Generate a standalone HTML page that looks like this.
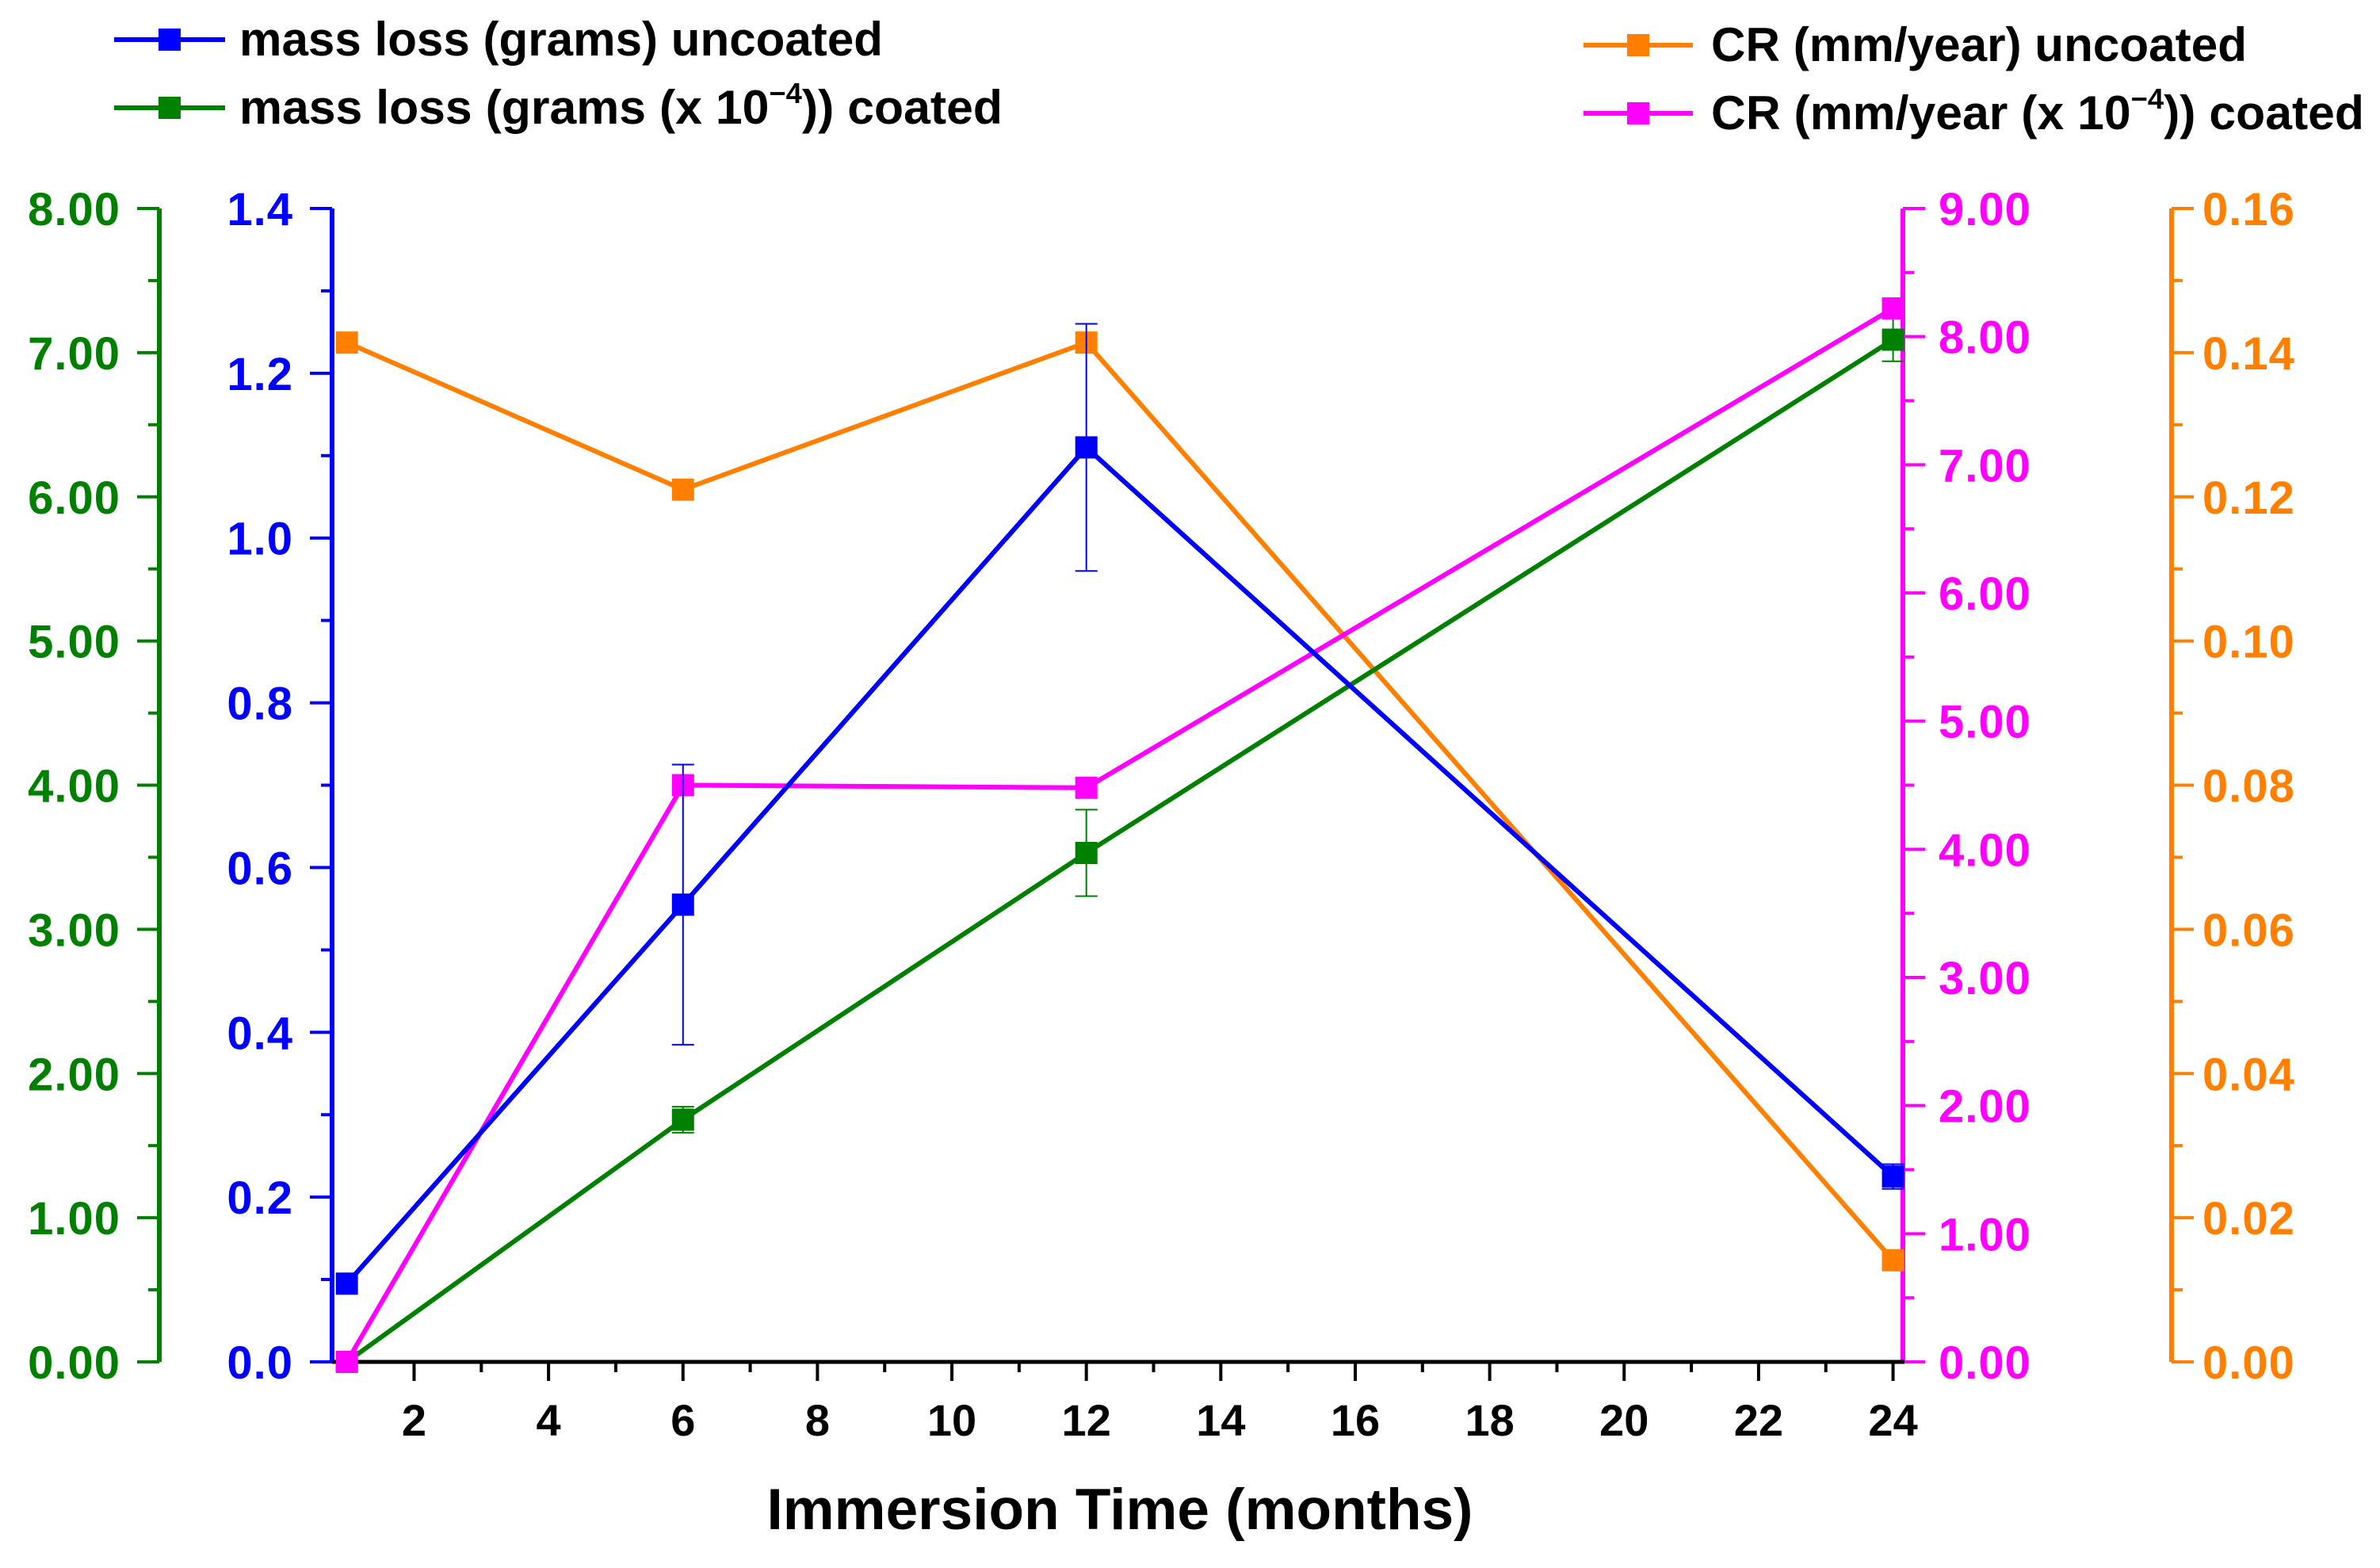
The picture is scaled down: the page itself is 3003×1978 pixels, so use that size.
<!DOCTYPE html>
<html><head><meta charset="utf-8">
<style>
html,body{margin:0;padding:0;background:#fff;}
svg{display:block;font-family:"Liberation Sans",Arial,sans-serif;font-weight:bold;}
</style></head>
<body>
<svg id="chart" width="3003" height="1978" viewBox="0 0 3003 1978" xmlns="http://www.w3.org/2000/svg">
<g id="legend"></g>
<g id="axes"></g>
<g id="series"></g>
</svg>
<script>
const months = [1, 6, 12, 24];
const massUncoated = [0.095, 0.555, 1.11, 0.225];
const massUncoatedErr = [0.0, 0.17, 0.15, 0.015];
const massCoated = [0.0, 1.68, 3.53, 7.09];
const massCoatedErr = [0.0, 0.09, 0.3, 0.15];
const crUncoated = [0.1414, 0.121, 0.1414, 0.0141];
const crCoated = [0.0, 4.5, 4.48, 8.22];
const xTicks = [2,4,6,8,10,12,14,16,18,20,22,24];
const greenTicks = ["0.00","1.00","2.00","3.00","4.00","5.00","6.00","7.00","8.00"];
const blueTicks = ["0.0","0.2","0.4","0.6","0.8","1.0","1.2","1.4"];
const pinkTicks = ["0.00","1.00","2.00","3.00","4.00","5.00","6.00","7.00","8.00","9.00"];
const orangeTicks = ["0.00","0.02","0.04","0.06","0.08","0.10","0.12","0.14","0.16"];

const NS = "http://www.w3.org/2000/svg";
const TOP = 263, BOT = 1718, XL = 419, XR = 2403;
const X0 = 0.78, X1 = 24.17;
function sx(v){ return XL + (v - X0) / (X1 - X0) * (XR - XL); }
function sy(v, max){ return BOT - v / max * (BOT - TOP); }
function mk(tag, attrs, parent){
  const e = document.createElementNS(NS, tag);
  for (const k in attrs) e.setAttribute(k, attrs[k]);
  parent.appendChild(e); return e;
}
const axes = document.getElementById('axes');
const series = document.getElementById('series');
const legend = document.getElementById('legend');

const GREEN = "#008000", BLUE = "#0000ff", PINK = "#ff00ff", ORANGE = "#ff8000";

function yAxis(x, labels, max, color, side, labelX, name){
  const g = mk('g', {}, axes);
  
  
  mk('line', {x1:x, y1:TOP, x2:x, y2:BOT, stroke:color, 'stroke-width':6}, g);
  const n = labels.length - 1;
  for (let i = 0; i <= n; i++){
    const v = parseFloat(labels[i]);
    const y = sy(v, max);
    mk('line', {x1:x, y1:y, x2:x + side*28, y2:y, stroke:color, 'stroke-width':4}, g);
    if (i < n){
      const ym = sy(v + max/n/2, max);
      mk('line', {x1:x, y1:ym, x2:x + side*14, y2:ym, stroke:color, 'stroke-width':4}, g);
    }
    const t = mk('text', {x:labelX, y:y + 21, fill:color, 'font-size':58, 'letter-spacing':1,
      'text-anchor': side < 0 ? 'end' : 'start'}, g);
    
    
    t.textContent = labels[i];
  }
}
yAxis(201, greenTicks, 8, GREEN, -1, 152, 'y-axis-mass-coated');
yAxis(419, blueTicks, 1.4, BLUE, -1, 370, 'y-axis-mass-uncoated');
yAxis(2401, pinkTicks, 9, PINK, 1, 2446, 'y-axis-cr-coated');
yAxis(2740, orangeTicks, 0.16, ORANGE, 1, 2779, 'y-axis-cr-uncoated');

// x axis
const xg = mk('g', {}, axes);


mk('line', {x1:XL, y1:BOT, x2:XR, y2:BOT, stroke:'#000', 'stroke-width':5}, xg);
for (let m = 1; m <= 24; m++){
  const x = sx(m);
  const major = m % 2 === 0;
  mk('line', {x1:x, y1:BOT, x2:x, y2:BOT + (major ? 24 : 13), stroke:'#000', 'stroke-width':4}, xg);
}
xTicks.forEach(v => {
  const t = mk('text', {x:sx(v), y:1811, 'text-anchor':'middle', 'font-size':56, fill:'#000'}, xg);
  
  
  t.textContent = v;
});
const xt = mk('text', {x:1413, y:1929, 'text-anchor':'middle', 'font-size':73, fill:'#000'}, xg);


xt.textContent = 'Immersion Time (months)';

function drawSeries(vals, max, color, name, errs){
  const g = mk('g', {}, series);
  
  
  const pts = months.map((m, i) => sx(m) + ',' + sy(vals[i], max)).join(' ');
  mk('polyline', {points:pts, fill:'none', stroke:color, 'stroke-width':6}, g);
  months.forEach((m, i) => {
    const x = sx(m), y = sy(vals[i], max);
    if (errs && errs[i] > 0){
      const y1 = sy(vals[i] + errs[i], max), y2 = sy(vals[i] - errs[i], max);
      mk('line', {x1:x, y1:y1, x2:x, y2:y2, stroke:color, 'stroke-width':2}, g);
      mk('line', {x1:x-14, y1:y1, x2:x+14, y2:y1, stroke:color, 'stroke-width':2}, g);
      mk('line', {x1:x-14, y1:y2, x2:x+14, y2:y2, stroke:color, 'stroke-width':2}, g);
    }
    const r = mk('rect', {x:x-14, y:y-14, width:28, height:28, fill:color}, g);
    
    
  });
}
drawSeries(crUncoated, 0.16, ORANGE, 'series-cr-uncoated', null);
drawSeries(massCoated, 8, GREEN, 'series-mass-coated', massCoatedErr);
drawSeries(crCoated, 9, PINK, 'series-cr-coated', null);
drawSeries(massUncoated, 1.4, BLUE, 'series-mass-uncoated', massUncoatedErr);

function legendEntry(x1, x2, y, color, textX, textEnd, parts, name){
  const g = mk('g', {}, legend);
  
  
  mk('line', {x1:x1, y1:y, x2:x2, y2:y, stroke:color, 'stroke-width':6}, g);
  const c = (x1 + x2) / 2;
  mk('rect', {x:c-14, y:y-14, width:28, height:28, fill:color}, g);
  const t = mk('text', {x:textX, y:y + 20, 'font-size':60, fill:'#000', textLength:textEnd - textX, lengthAdjust:'spacingAndGlyphs'}, g);
  parts.forEach(p => {
    const s = mk('tspan', p.sup ? {'font-size':36, dy:-26} : (p.after ? {dy:26} : {}), t);
    s.textContent = p.t;
  });
}
legendEntry(144, 284, 50, BLUE, 302, 1114, [{t:'mass loss (grams) uncoated'}], 'legend-mass-uncoated');
legendEntry(144, 284, 136, GREEN, 302, 1265, [{t:'mass loss (grams (x 10'},{t:'\u22124',sup:true},{t:')) coated',after:true}], 'legend-mass-coated');
legendEntry(1998, 2136, 57, ORANGE, 2159, 2835, [{t:'CR (mm/year) uncoated'}], 'legend-cr-uncoated');
legendEntry(1998, 2136, 143, PINK, 2159, 2983, [{t:'CR (mm/year (x 10'},{t:'\u22124',sup:true},{t:')) coated',after:true}], 'legend-cr-coated');
</script>
</body></html>
